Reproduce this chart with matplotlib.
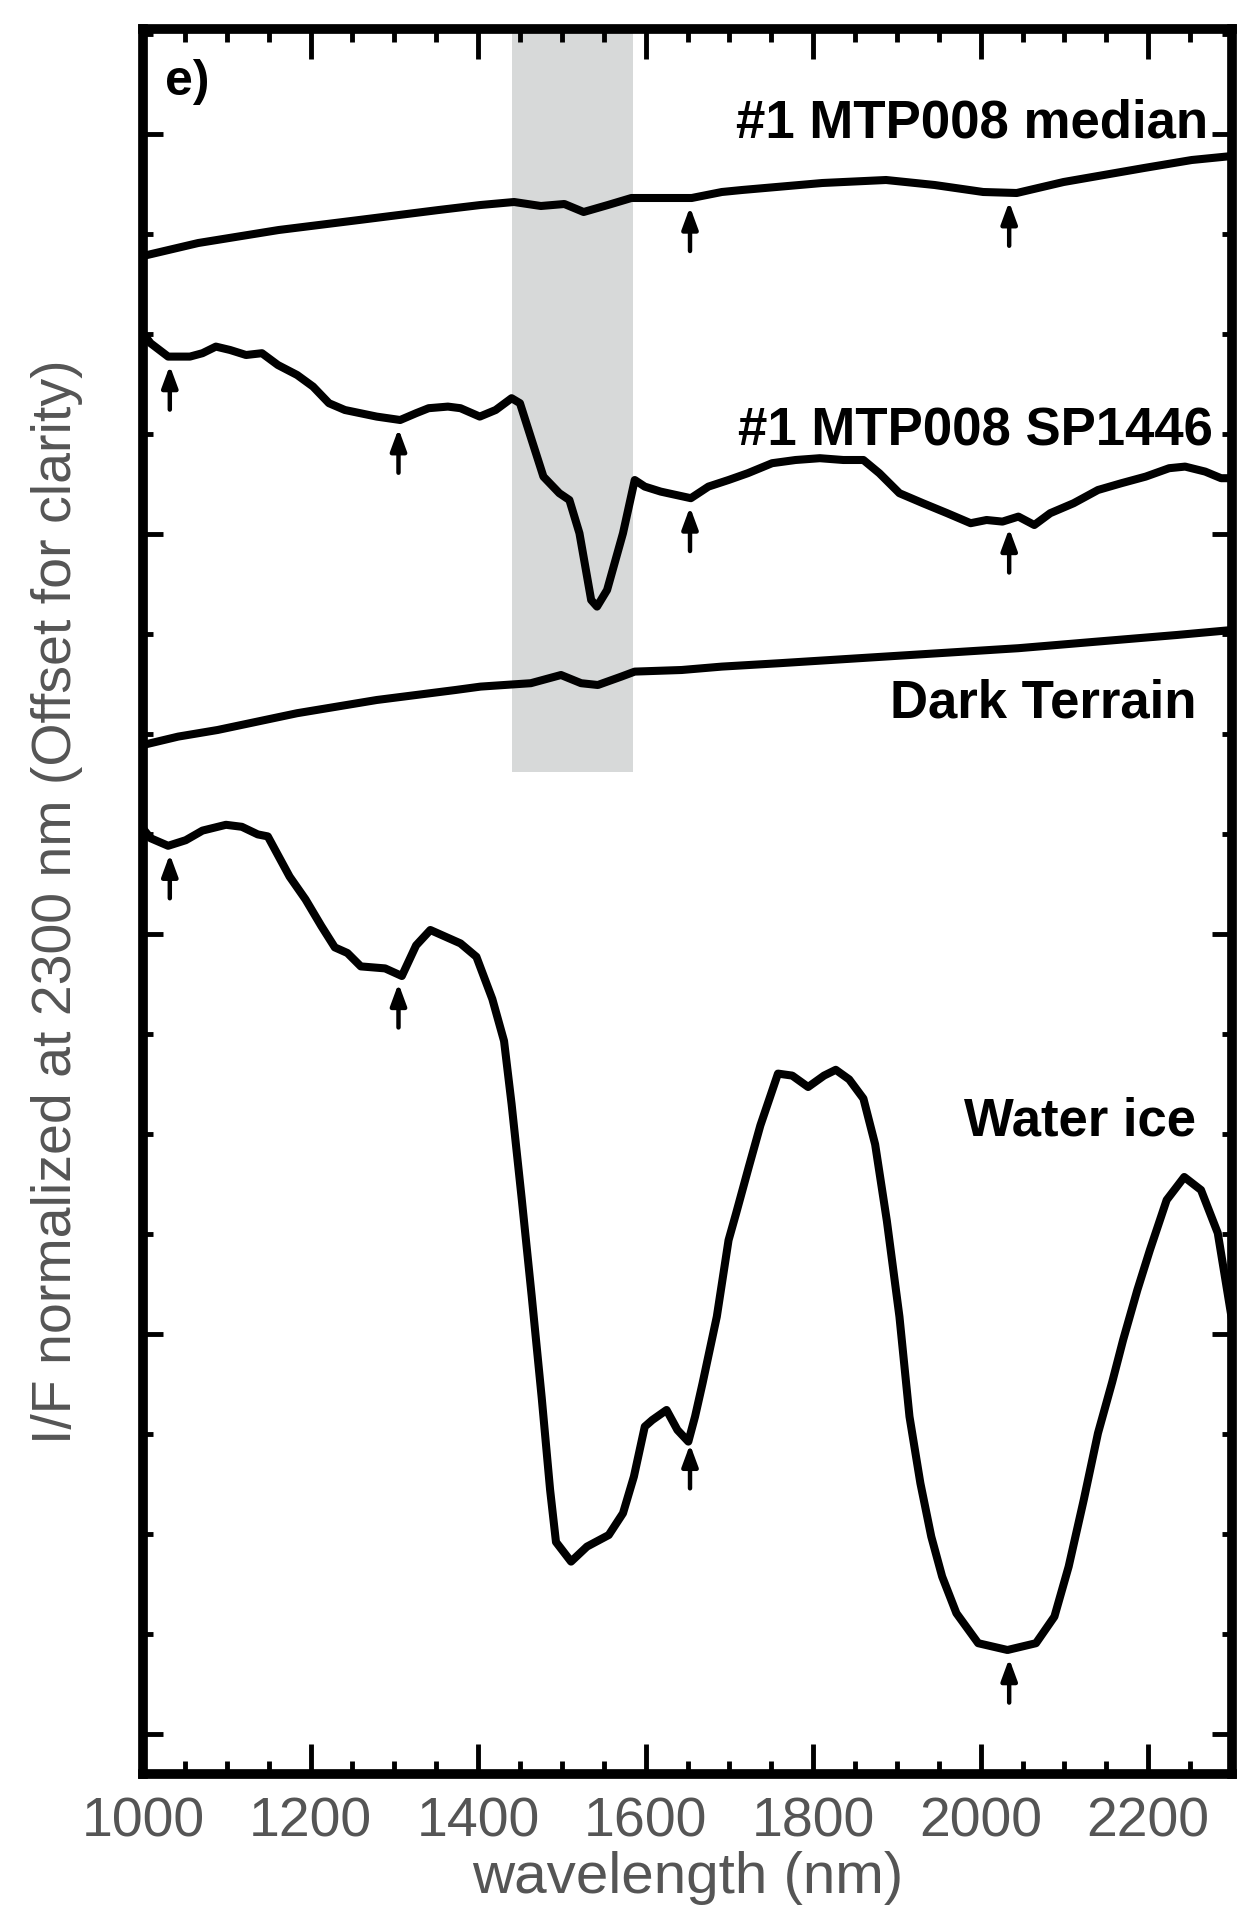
import numpy as np
import matplotlib
matplotlib.use("Agg")
import matplotlib.pyplot as plt
from matplotlib.ticker import MultipleLocator, NullFormatter

plt.rcParams['font.family'] = ['Liberation Sans', 'DejaVu Sans']

# Spectra (wavelength in nm, I/F offset for clarity)
median_wl = [1000, 1066, 1162, 1258, 1353, 1403, 1443, 1475, 1503, 1526, 1555, 1583,
             1622, 1655, 1691, 1715, 1811, 1887, 1945, 2003, 2043, 2099, 2195, 2252, 2300]
median_if = [0.739, 0.7455, 0.752, 0.757, 0.762, 0.7645, 0.766, 0.764, 0.765, 0.761, 0.7645, 0.768,
             0.768, 0.768, 0.771, 0.772, 0.7755, 0.777, 0.7745, 0.771, 0.7705, 0.776, 0.783, 0.787, 0.789]

sp1446_wl = [1000, 1009, 1030, 1056, 1071, 1087, 1104, 1123, 1142, 1161, 1184, 1203, 1222, 1241,
             1279, 1307, 1326, 1341, 1364, 1379, 1402, 1421, 1440, 1450, 1464, 1478, 1497, 1509,
             1521, 1535, 1542, 1554, 1573, 1587, 1599, 1618, 1654, 1675, 1699, 1722, 1751, 1779,
             1808, 1836, 1860, 1879, 1903, 1931, 1960, 1988, 2007, 2026, 2045, 2064, 2083, 2111,
             2140, 2168, 2197, 2225, 2244, 2268, 2287, 2300]
sp1446_if = [0.7004, 0.6954, 0.6887, 0.6887, 0.6904, 0.6937, 0.692, 0.6895, 0.6904, 0.6845, 0.6795,
             0.6737, 0.6654, 0.662, 0.6587, 0.657, 0.6604, 0.6629, 0.6637, 0.6629, 0.6587, 0.662,
             0.6679, 0.6654, 0.647, 0.6287, 0.6204, 0.617, 0.6004, 0.567, 0.5637, 0.572, 0.6004,
             0.627, 0.6237, 0.6212, 0.6179, 0.6237, 0.627, 0.6304, 0.6354, 0.637, 0.6379, 0.637,
             0.637, 0.6304, 0.6204, 0.6154, 0.6104, 0.6054, 0.607, 0.6062, 0.6087, 0.6045, 0.6104,
             0.6154, 0.622, 0.6254, 0.6287, 0.6329, 0.6337, 0.6312, 0.6279, 0.6279]

dark_wl = [1000, 1042, 1089, 1184, 1279, 1373, 1403, 1463, 1499, 1523, 1543, 1571, 1587, 1643,
           1691, 1760, 1855, 1950, 2045, 2139, 2234, 2300]
dark_if = [0.4945, 0.4987, 0.502, 0.5104, 0.517, 0.522, 0.5237, 0.5254, 0.5295, 0.5254, 0.5245,
           0.5287, 0.5312, 0.532, 0.5337, 0.5354, 0.5379, 0.5404, 0.5429, 0.5462, 0.5495, 0.552]

ice_wl = [1000, 1009, 1030, 1051, 1071, 1099, 1118, 1137, 1149, 1175, 1194, 1213, 1229, 1244,
          1260, 1289, 1309, 1326, 1343, 1379, 1398, 1417, 1431, 1440, 1452, 1464, 1476, 1486,
          1493, 1511, 1530, 1556, 1573, 1586, 1599, 1608, 1625, 1638, 1651, 1659, 1668, 1685,
          1699, 1708, 1723, 1737, 1758, 1775, 1794, 1813, 1827, 1843, 1860, 1874, 1888, 1903,
          1915, 1928, 1941, 1954, 1971, 1997, 2032, 2066, 2088, 2105, 2123, 2140, 2157, 2170,
          2187, 2202, 2222, 2243, 2263, 2283, 2300]
ice_if = [0.4527, 0.4479, 0.4441, 0.4469, 0.4517, 0.4546, 0.4536, 0.4498, 0.4488, 0.4287, 0.4173,
          0.4039, 0.3933, 0.3905, 0.3838, 0.3828, 0.379, 0.3943, 0.402, 0.3953, 0.3886, 0.3675,
          0.3465, 0.315, 0.268, 0.219, 0.168, 0.122, 0.096, 0.0862, 0.0937, 0.0995, 0.1104,
          0.1287, 0.1537, 0.157, 0.162, 0.152, 0.1462, 0.1587, 0.1754, 0.2087, 0.2469, 0.2603,
          0.2833, 0.3043, 0.3302, 0.3292, 0.3235, 0.3292, 0.3321, 0.3273, 0.3177, 0.2948, 0.2565,
          0.2087, 0.1587, 0.1254, 0.0987, 0.0787, 0.0604, 0.0454, 0.042, 0.0454, 0.0587, 0.0837,
          0.117, 0.1504, 0.176, 0.197, 0.222, 0.242, 0.267, 0.2785, 0.272, 0.2505, 0.207]

labels = ['#1 MTP008 median', '#1 MTP008 SP1446', 'Dark Terrain', 'Water ice']
label_pos = [(2272, 0.7985), (2277, 0.6445), (2258, 0.508), (2257, 0.2995)]

# absorption features marked with arrows, per spectrum
arrow_wl = [1032, 1305, 1653, 2034]
arrow_sets = [[1653, 2034], arrow_wl, [], arrow_wl]

# shaded band
band = (1440, 1585)
band_top = 0.481

fig = plt.figure(figsize=(12.39, 19.12), dpi=100)
ax = fig.add_axes([143 / 1239, 1 - 1774 / 1912, (1232 - 143) / 1239, (1774 - 29) / 1912])

ax.fill_between(band, band_top, 1.0, color='#d7d9d9', lw=0, zorder=0)

spectra = [(median_wl, median_if), (sp1446_wl, sp1446_if), (dark_wl, dark_if), (ice_wl, ice_if)]
for (wl, val), name, (tx, ty), arrows in zip(spectra, labels, label_pos, arrow_sets):
    ax.plot(wl, val, color='black', lw=5.8, solid_joinstyle='round', solid_capstyle='round',
            zorder=3)
    ax.text(tx, ty, name, ha='right', va='baseline', fontsize=38, fontweight='bold')
    for a in arrows:
        tip = np.interp(a, wl, val) - 0.0045
        ax.annotate('', xy=(a, tip), xytext=(a, tip - 0.022),
                    arrowprops=dict(arrowstyle='-|>,head_length=0.65,head_width=0.24',
                                    mutation_scale=20, lw=3.2, color='black',
                                    shrinkA=0, shrinkB=0), zorder=4)

ax.text(1026, 0.8195, 'e)', ha='left', va='baseline', fontsize=36, fontweight='bold')

ax.set_xlim(1000, 2300)
ax.set_ylim(-0.02, 0.8525)

ax.xaxis.set_major_locator(MultipleLocator(200))
ax.xaxis.set_minor_locator(MultipleLocator(50))
ax.yaxis.set_major_locator(MultipleLocator(0.2))
ax.yaxis.set_minor_locator(MultipleLocator(0.05))
ax.yaxis.set_major_formatter(NullFormatter())

ax.tick_params(axis='both', which='both', direction='in', top=True, right=True, color='black')
ax.tick_params(axis='x', which='major', length=21.5, width=3.5, pad=16,
               labelsize=40, labelcolor='#555555')
ax.tick_params(axis='x', which='minor', length=9.5, width=3.5)
ax.tick_params(axis='y', which='major', length=14.5, width=3.5)
ax.tick_params(axis='y', which='minor', length=7.2, width=3.5)

for s in ax.spines.values():
    s.set_linewidth(7)

ax.set_xlabel('wavelength (nm)', fontsize=42, color='#555555', labelpad=2)
ax.set_ylabel('I/F normalized at 2300 nm (Offset for clarity)', fontsize=40, color='#555555',
              labelpad=40)

fig.savefig('out.png', dpi=100)
